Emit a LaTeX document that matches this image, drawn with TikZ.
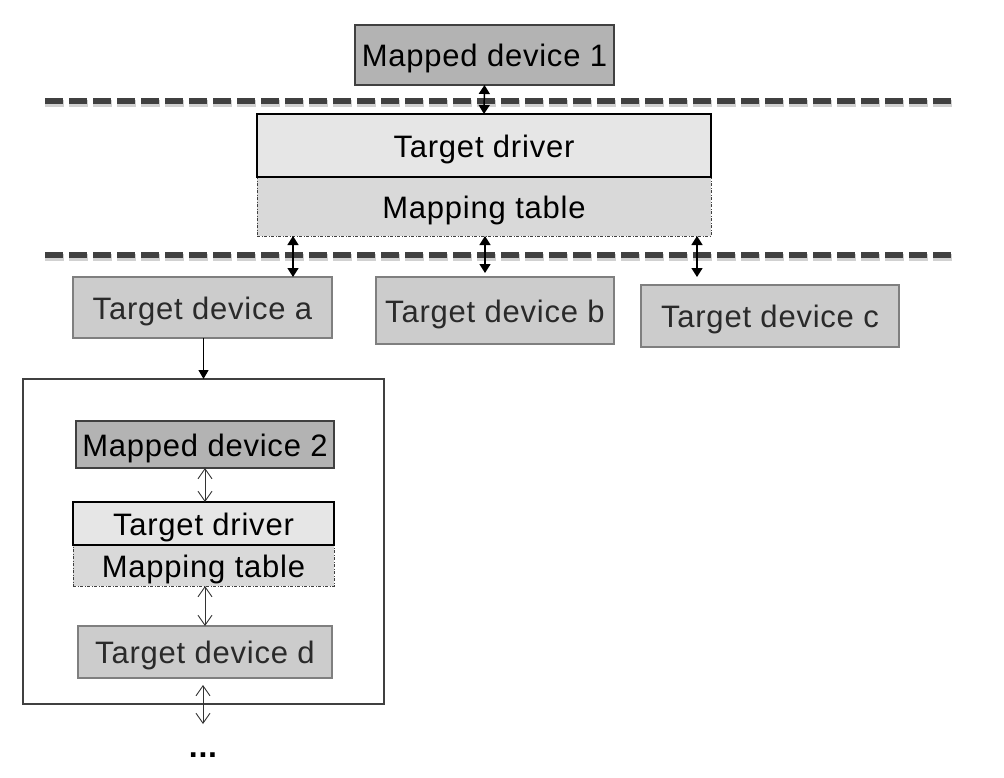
\documentclass[tikz,border=0pt]{standalone}
\usepackage{fontspec}
\setmainfont{Liberation Sans}[LetterSpace=2.5]
\usetikzlibrary{arrows.meta,calc}
\definecolor{mdfill}{HTML}{B3B3B3}
\definecolor{tdfill}{HTML}{E6E6E6}
\definecolor{mtfill}{HTML}{D9D9D9}
\definecolor{devfill}{HTML}{CCCCCC}
\definecolor{darkline}{HTML}{404040}
\definecolor{devline}{HTML}{7F7F7F}
\definecolor{devtext}{HTML}{2A2A2A}
\begin{document}
\begin{tikzpicture}[x=1pt,y=-1pt,
  every node/.style={inner sep=0pt,outer sep=0pt,text height=23pt,text depth=0pt,font=\fontsize{31}{37}\selectfont},
  mdev/.style={draw=darkline,fill=mdfill,line width=1.2pt,text=black},
  tdrv/.style={draw=black,fill=tdfill,line width=1.2pt,text=black},
  mtab/.style={draw=darkline,fill=mtfill,line width=0.8pt,dash pattern=on 3pt off 1.5pt on 1pt off 1.5pt,text=black},
  tdev/.style={draw=devline,fill=devfill,line width=1.2pt,text=devtext},
  frame/.style={draw=darkline,line width=1.4pt},
  sepline/.style={draw=darkline,line width=6pt,dash pattern=on 18pt off 6pt},
  sepshadow/.style={draw=black!18,line width=7pt,dash pattern=on 19pt off 5pt,dash phase=0.5pt},
  dbl/.style={line width=1.5pt,{Triangle[length=9pt,width=11pt]}-{Triangle[length=9pt,width=11pt]}},
  single/.style={line width=1.1pt,-{Triangle[length=9pt,width=10pt]}},
  odbl/.style={draw=black!80,line width=0.9pt,{Straight Barb[length=10pt,width=14pt]}-{Straight Barb[length=10pt,width=14pt]}}
]
\useasboundingbox (0,0) rectangle (1004,777);

% separators
\coordinate (l1a) at (45,100.5);
\coordinate (l1b) at (955,100.5);
\coordinate (l2a) at (45,255);
\coordinate (l2b) at (955,255);
\draw[sepshadow] ($(l1a)+(0,2.5)$) -- ($(l1b)+(0,2.5)$);
\draw[sepshadow] ($(l2a)+(0,2.5)$) -- ($(l2b)+(0,2.5)$);
\draw[sepline] (l1a) -- (l1b);
\draw[sepline] (l2a) -- (l2b);

% top level
\node[mdev,minimum width=259,minimum height=60] (md1) at (484.5,55) {Mapped device 1};
\node[mtab,minimum width=454,minimum height=59] (mt1) at (484,206.5) {Mapping table};
\node[tdrv,minimum width=454,minimum height=63] (td1) at (484,145.5) {Target driver};

\node[tdev,minimum width=259,minimum height=61] (a) at (202.5,307.5) {Target device a};
\node[tdev,minimum width=238,minimum height=67] (b) at (495,310.5) {Target device b};
\node[tdev,minimum width=258,minimum height=62] (c) at (770,316) {Target device c};

\draw[dbl] (md1.south) -- (td1.north);
\coordinate (xa) at (293,0);
\coordinate (xb) at (485,0);
\coordinate (xc) at (697,0);
\draw[dbl] (mt1.south -| xa) -- (a.north -| xa);
\draw[dbl,shorten >=4pt] (mt1.south -| xb) -- (b.north -| xb);
\draw[dbl,shorten >=8pt] (mt1.south -| xc) -- (c.north -| xc);

% nested box
\node[frame,minimum width=361,minimum height=325] (box) at (203.5,541.5) {};
\draw[single] (a.south -| box.north) -- (box.north);

\node[mdev,minimum width=258,minimum height=47] (md2) at (205,444.5) {Mapped device 2};
\node[mtab,minimum width=261,minimum height=41] (mt2) at (203.5,565.5) {Mapping table};
\node[tdrv,minimum width=261,minimum height=43] (td2) at (203.5,523.5) {Target driver};
\node[tdev,minimum width=254,minimum height=52] (d) at (205,652) {Target device d};

\coordinate (x2) at (205,0);
\draw[odbl] (md2.south -| x2) -- (td2.north -| x2);
\draw[odbl] (mt2.south -| x2) -- (d.north -| x2);
\coordinate (more) at (203,724);
\draw[odbl,shorten <=7pt] (d.south -| more) -- (more);
\node[font=\fontsize{32}{38}\selectfont\bfseries] (dots) at (203,746) {...};
\end{tikzpicture}
\end{document}
